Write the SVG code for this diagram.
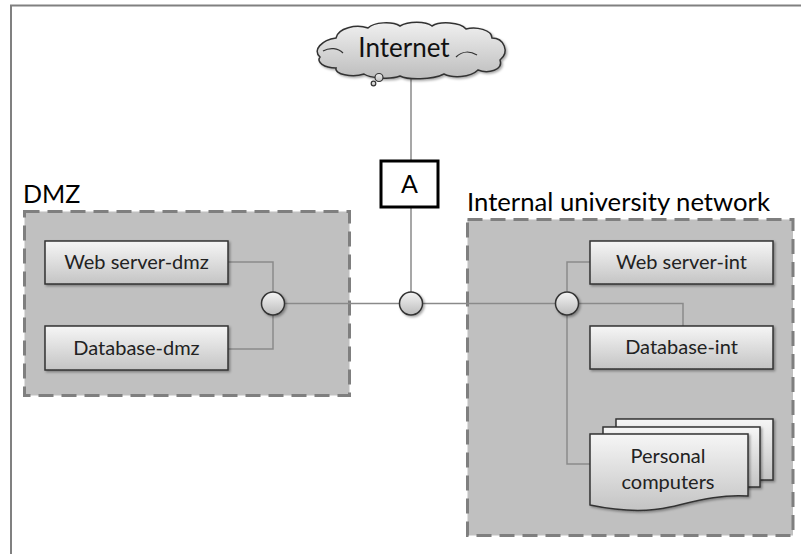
<svg xmlns="http://www.w3.org/2000/svg" width="801" height="554" viewBox="0 0 801 554">
  <defs>
    <linearGradient id="boxGrad" x1="0" y1="0" x2="0" y2="1">
      <stop offset="0" stop-color="#f6f6f6"/>
      <stop offset="1" stop-color="#c4c4c4"/>
    </linearGradient>
    <linearGradient id="hubGrad" x1="0" y1="0" x2="0" y2="1">
      <stop offset="0" stop-color="#f4f4f4"/>
      <stop offset="1" stop-color="#bcbcbc"/>
    </linearGradient>
    <linearGradient id="cloudGrad" x1="0" y1="0" x2="0" y2="1">
      <stop offset="0" stop-color="#f0f0f0"/>
      <stop offset="1" stop-color="#bdbdbd"/>
    </linearGradient>
    <filter id="shadow" x="-10%" y="-10%" width="130%" height="140%">
      <feDropShadow dx="1.5" dy="1.5" stdDeviation="1" flood-color="#000" flood-opacity="0.35"/>
    </filter>
  </defs>
  <style>
    .frame { stroke: #808080; stroke-width: 2; fill: none; }
    .zone { fill: #c0c0c0; stroke: #7f7f7f; stroke-width: 3; stroke-dasharray: 15 8; }
    .zlabel { font-family: Lato, "Liberation Sans", sans-serif; font-size: 25px; fill: #000; }
    .box { fill: url(#boxGrad); stroke: #333; stroke-width: 1.5; filter: url(#shadow); }
    .label { font-family: Lato, "Liberation Sans", sans-serif; font-size: 20px; fill: #222; text-anchor: middle; }
    .hub { fill: url(#hubGrad); stroke: #333; stroke-width: 1.5; filter: url(#shadow); }
    .conn { fill: none; stroke: #8a8a8a; stroke-width: 1.5; }
  </style>

  <!-- page frame -->
  <path class="frame" d="M11,554 V5.5 H801"/>

  <!-- network zones -->
  <g id="zone-dmz">
    <rect class="zone" x="24.5" y="211.5" width="325" height="184"/>
    <text class="zlabel" x="23" y="203">DMZ</text>
  </g>
  <g id="zone-internal">
    <rect class="zone" x="467.5" y="219.5" width="325.5" height="316"/>
    <text class="zlabel" x="467" y="211" textLength="303" lengthAdjust="spacingAndGlyphs">Internal university network</text>
  </g>

  <!-- links -->
  <g id="connectors">
    <path class="conn" d="M411,77 V160"/>
    <path class="conn" d="M411,208 V292"/>
    <path class="conn" d="M285,303.5 H399.5"/>
    <path class="conn" d="M423,303.5 H555"/>
    <path class="conn" d="M228,262 H273 V292"/>
    <path class="conn" d="M228,349 H273 V315"/>
    <path class="conn" d="M567,291.5 V262 H590"/>
    <path class="conn" d="M579,303.5 H683 V326"/>
    <path class="conn" d="M567,315.5 V464 H590"/>
  </g>

  <!-- Internet cloud -->
  <g id="internet">
    <path fill="url(#cloudGrad)" stroke="#333" stroke-width="1.5" filter="url(#shadow)"
      d="M320,57 C312,50 322,40 336,38 C338,28 356,24 368,28 C374,22 392,21 400,26 C408,21 426,21 432,26 C440,21 460,22 466,29 C476,26 492,30 492,38 C504,38 510,52 500,60 C504,70 488,74 478,70 C470,78 452,78 444,74 C432,80 408,80 400,76 C390,80 370,78 364,74 C352,78 334,74 336,68 C324,68 316,62 320,57 Z"/>
    <path fill="none" stroke="#333" stroke-width="1.2" d="M323,51 C330,47 338,48 343,53"/>
    <path fill="none" stroke="#333" stroke-width="1.2" d="M456,57 C462,51 470,51 477,55"/>
    <circle cx="379" cy="77.5" r="4" fill="url(#cloudGrad)" stroke="#333" stroke-width="1.2"/>
    <circle cx="373.5" cy="83.5" r="2.3" fill="url(#cloudGrad)" stroke="#333" stroke-width="1.2"/>
    <text class="label" x="404" y="57" style="font-size:26px;fill:#111">Internet</text>
  </g>

  <!-- gateway A -->
  <g id="gateway-a">
    <rect x="381" y="161" width="57" height="46" fill="#fff" stroke="#000" stroke-width="3"/>
    <text class="label" x="409.5" y="193" style="font-size:25px;fill:#000">A</text>
  </g>

  <!-- switches -->
  <g id="hub-dmz"><circle class="hub" cx="273" cy="303.5" r="11.5"/></g>
  <g id="hub-core"><circle class="hub" cx="411" cy="303.5" r="11.5"/></g>
  <g id="hub-internal"><circle class="hub" cx="567" cy="303.5" r="11.5"/></g>

  <!-- DMZ hosts -->
  <g id="web-server-dmz">
    <rect class="box" x="45" y="241" width="183" height="43"/>
    <text class="label" x="136.5" y="269">Web server-dmz</text>
  </g>
  <g id="database-dmz">
    <rect class="box" x="45" y="326" width="183" height="44"/>
    <text class="label" x="136.5" y="355">Database-dmz</text>
  </g>

  <!-- internal hosts -->
  <g id="web-server-int">
    <rect class="box" x="590" y="241" width="183" height="43"/>
    <text class="label" x="681.5" y="268.5">Web server-int</text>
  </g>
  <g id="database-int">
    <rect class="box" x="590" y="326" width="183" height="43"/>
    <text class="label" x="681.5" y="354">Database-int</text>
  </g>

  <!-- stacked documents: personal computers -->
  <g id="personal-computers">
    <rect class="box" x="616" y="419" width="157" height="61"/>
    <rect class="box" x="603" y="427" width="157" height="60"/>
    <path class="box" d="M590,434 H748 V496 C720,494 696,501 670,507 C644,513 614,510 590,505 Z"/>
    <text class="label" x="668" y="463">Personal</text>
    <text class="label" x="668" y="489">computers</text>
  </g>
</svg>
